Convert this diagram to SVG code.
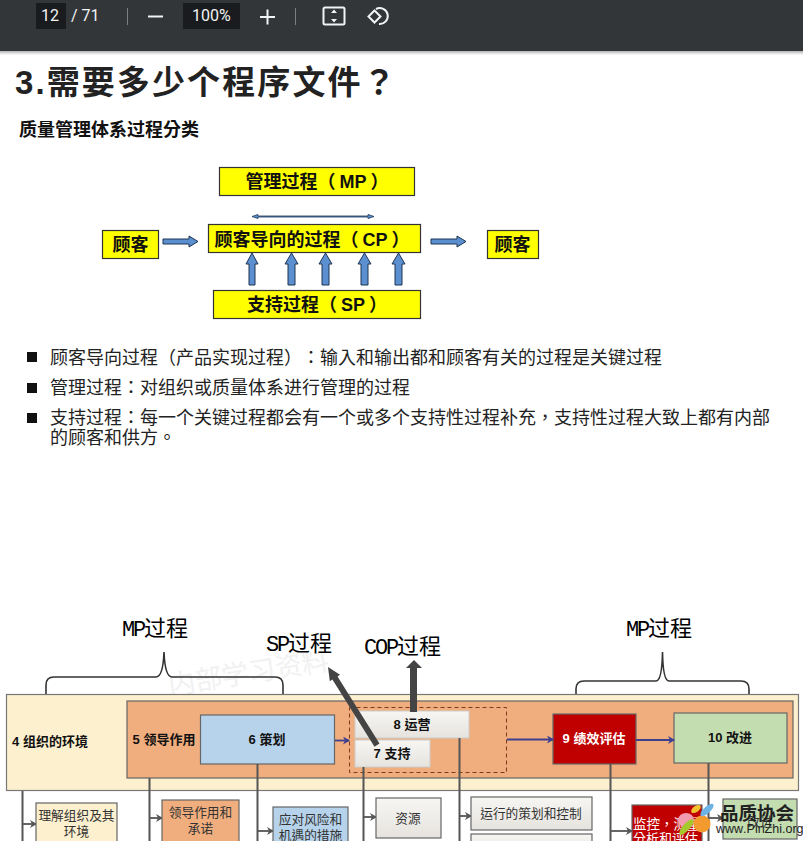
<svg xmlns="http://www.w3.org/2000/svg" width="803" height="841" viewBox="0 0 803 841">
<style>
text{font-family:"Liberation Sans","Noto Sans CJK TC",sans-serif;fill:#111;text-spacing-trim:space-all;font-kerning:none}
.tb{font-family:Roboto,"Noto Sans",sans-serif;font-size:16px;fill:#f1f3f4}
.y{fill:#ff0;stroke:#333;stroke-width:1.2}
.yt{font-size:18px;font-weight:700;text-anchor:middle}
.blk{fill:#5b8fd0;stroke:#1f3553;stroke-width:1}
.b{font-size:18px;fill:#222}
.lab{font-family:"Liberation Serif","Noto Sans CJK SC",serif;font-size:22px;fill:#000}
.lab tspan{font-family:"Liberation Mono",monospace;letter-spacing:-2.2px}
.k{font-size:13px;font-weight:700;text-anchor:middle}
.d{font-size:12.700px;text-anchor:middle;fill:#333}
.box{stroke:#666;stroke-width:1.200}
.v{fill:none;stroke:#555;stroke-width:2}
.brace{fill:none;stroke:#333;stroke-width:1.600}
.hb{stroke:#3d3f8f;stroke-width:1.800;fill:none;marker-end:url(#hb)}
.ga{stroke:#555;stroke-width:1.800;fill:none;marker-end:url(#ga)}
.ic{fill:none;stroke:#f1f3f4;stroke-width:2}
</style>
<defs>
<marker id="hb" markerWidth="8" markerHeight="8" refX="7" refY="4" orient="auto" markerUnits="userSpaceOnUse"><path d="M1 0L8 4L1 8L3 4Z" fill="#3d3f8f"/></marker>
<marker id="ga" markerWidth="8" markerHeight="8" refX="7" refY="4" orient="auto" markerUnits="userSpaceOnUse"><path d="M1 0L8 4L1 8L3 4Z" fill="#555"/></marker>
<linearGradient id="g" x1="0" y1="0" x2="0" y2="1"><stop offset="0" stop-color="#f7f6f3"/><stop offset="1" stop-color="#e6e3de"/></linearGradient>
<linearGradient id="sh" x1="0" y1="0" x2="0" y2="1"><stop offset="0" stop-color="#000" stop-opacity=".3"/><stop offset="1" stop-color="#000" stop-opacity="0"/></linearGradient>
</defs>
<rect width="803" height="841" fill="#fff"/>

<g id="toolbar">
<rect width="803" height="51" fill="#323639"/>
<rect y="51" width="803" height="4" fill="url(#sh)"/>
<rect x="36" y="3" width="30" height="26" fill="#191b1e"/>
<text class="tb" x="41" y="21">12</text>
<text class="tb" x="71" y="21">/ 71</text>
<rect x="127" y="8" width="1" height="17" fill="#7b7e80"/>
<path class="ic" d="M148 16.500H163"/>
<rect x="183" y="3" width="57" height="26" fill="#191b1e"/>
<text class="tb" x="192" y="21">100%</text>
<path class="ic" d="M260 17H275M267.500 9.500V24.500"/>
<rect x="295" y="8" width="1" height="17" fill="#7b7e80"/>
<rect class="ic" x="323.500" y="7.500" width="21" height="17" rx="1.500"/>
<path d="M334 9.500l3 3.500h-6zM334 22.500l3-3.500h-6z" fill="#f1f3f4"/>
<path class="ic" d="M376 9a8 8 0 1 1 3 15"/>
<path class="ic" d="M374.500 10.500l6 6-6 6-6-6z"/>
</g>

<text x="15" y="94" font-size="33" font-weight="700" letter-spacing="2.100" style="fill:#222">3.需要多少个程序文件？</text>
<text x="19" y="136" font-size="18" font-weight="700">质量管理体系过程分类</text>
<text x="170" y="695" font-size="27" transform="rotate(-9 170 695)" style="fill:#f1f1f1">内部学习资料</text>

<g id="connectors-top">
<path d="M258 214.500L252 216.500L258 218.500V217H368V218.500L374 216.500L368 214.500V216H258Z" fill="#5b8fd0" stroke="#1f3553" stroke-width=".8"/>
<path class="blk" d="M163 239H189V236L198 241.500L189 247V244H163Z"/>
<path class="blk" d="M431 239H457V236L466 241.500L457 247V244H431Z"/>
<path class="blk" d="M249 285V264H246L252 253L258 264H255V285Z"/>
<path class="blk" d="M288 285V264H285L291.500 253L298 264H295V285Z"/>
<path class="blk" d="M322 285V264H319L325.500 253L332 264H329V285Z"/>
<path class="blk" d="M361 285V264H358L364.500 253L371 264H368V285Z"/>
<path class="blk" d="M395 285V264H392L398.500 253L405 264H402V285Z"/>
</g>
<g id="mp"><rect class="y" x="219.500" y="167.500" width="195" height="28"/><text class="yt" x="317" y="188">管理过程（<tspan dx="4">MP</tspan><tspan dx="4">）</tspan></text></g>
<g id="cp"><rect class="y" x="208.500" y="224.500" width="212" height="28"/><text class="yt" x="312" y="246">顾客导向的过程（<tspan dx="4">CP</tspan><tspan dx="4">）</tspan></text></g>
<g id="sp"><rect class="y" x="213.500" y="290.500" width="207" height="28"/><text class="yt" x="317" y="311">支持过程（<tspan dx="4">SP</tspan><tspan dx="4">）</tspan></text></g>
<g id="cust-l"><rect class="y" x="102.500" y="230.500" width="56" height="28"/><text class="yt" x="130.500" y="251">顾客</text></g>
<g id="cust-r"><rect class="y" x="487.500" y="230.500" width="51" height="28"/><text class="yt" x="512.500" y="251">顾客</text></g>

<g id="bullets">
<rect x="27" y="352" width="10" height="10" fill="#111"/>
<rect x="27" y="383" width="10" height="10" fill="#111"/>
<rect x="27" y="413" width="10" height="10" fill="#111"/>
<text class="b" x="50" y="364">顾客导向过程（产品实现过程）：输入和输出都和顾客有关的过程是关键过程</text>
<text class="b" x="50" y="394">管理过程：对组织或质量体系进行管理的过程</text>
<text class="b" x="50" y="424">支持过程：每一个关键过程都会有一个或多个支持性过程补充，支持性过程大致上都有内部</text>
<text class="b" x="50" y="444">的顾客和供方。</text>
</g>

<g id="labels">
<text class="lab" x="122" y="636"><tspan>MP</tspan>过程</text>
<text class="lab" x="266" y="651"><tspan>SP</tspan>过程</text>
<text class="lab" x="364" y="654"><tspan>COP</tspan>过程</text>
<text class="lab" x="626" y="636"><tspan>MP</tspan>过程</text>
<path class="brace" d="M46 694V685Q46 677 54 677H156Q163 677 164 652Q165 677 172 677H275Q283 677 283 685V694"/>
<path class="brace" d="M576 700V689Q576 681 584 681H656Q662 681 662.500 652Q663 681 669 681H741Q749 681 749 689V700"/>
</g>

<g id="env"><rect x="6.500" y="694.500" width="792" height="96" fill="#fdf0cf" stroke="#777" stroke-width="1.200"/><text class="k" x="50" y="746">4 组织的环境</text></g>
<g id="lead"><rect x="127" y="701" width="666" height="77" fill="#f0ae7e" stroke="#666" stroke-width="1.200"/><text class="k" x="164" y="744">5 领导作用</text></g>
<rect x="349.500" y="707.500" width="157" height="65" fill="none" stroke="#7a3b1c" stroke-width="1" stroke-dasharray="4 3"/>
<g id="plan"><rect class="box" x="200.500" y="715" width="134" height="49" fill="#b7d3eb"/><text class="k" x="267" y="744">6 策划</text></g>
<g id="ops"><rect x="355" y="711" width="114" height="27" fill="url(#g)" stroke="#ccc"/><text class="k" x="412" y="729">8 运营</text></g>
<g id="sup"><rect x="355" y="740" width="75" height="27" fill="url(#g)" stroke="#ccc"/><text class="k" x="392" y="758">7 支持</text></g>
<g id="perf"><rect class="box" x="553" y="714" width="83" height="50" fill="#c00000"/><text class="k" x="594" y="743" style="fill:#fff">9 绩效评估</text></g>
<g id="imp"><rect class="box" x="674" y="713" width="113" height="50" fill="#c3ddb0"/><text class="k" x="730" y="742">10 改进</text></g>

<g id="connectors">
<path class="hb" d="M335 740.500H349"/>
<path class="hb" d="M507 739.500H553"/>
<path class="hb" d="M636 740H674"/>
<path class="v" d="M22.500 791V841M149.500 778V841M257.500 764V841M363.500 767V841M459.500 738V841M610.500 764V841M708.500 763V841"/>
<path class="ga" d="M23 824H36"/>
<path class="ga" d="M150 818H162"/>
<path class="ga" d="M258 831H273"/>
<path class="ga" d="M364 817H376"/>
<path class="ga" d="M460 816H471"/>
<path class="ga" d="M611 831H632"/>
<path class="ga" d="M709 818H723"/>
<path d="M379.500 743.500L374.500 746.700L332.400 679.600L329.800 681.200L328 667L340 674.800L337.500 676.400Z" fill="#444"/>
<path d="M410 712V668H406L414 660L422 668H417V712Z" fill="#444"/>
</g>

<g id="n1"><rect class="box" x="36" y="803" width="81" height="50" fill="#fdf0cf"/><text class="d" x="76.500" y="820">理解组织及其</text><text class="d" x="76.500" y="836">环境</text></g>
<g id="n2"><rect class="box" x="162" y="800" width="77" height="50" fill="#f0ae7e"/><text class="d" x="200.500" y="817">领导作用和</text><text class="d" x="200.500" y="833">承诺</text></g>
<g id="n3"><rect class="box" x="273" y="807" width="75" height="50" fill="#b7d3eb"/><text class="d" x="310.500" y="824">应对风险和</text><text class="d" x="310.500" y="840">机遇的措施</text></g>
<g id="n4"><rect class="box" x="376" y="798" width="65" height="40" fill="url(#g)"/><text class="d" x="408" y="823">资源</text></g>
<g id="n5"><rect class="box" x="471" y="797" width="121" height="33" fill="url(#g)"/><text class="d" x="531" y="818">运行的策划和控制</text></g>
<rect class="box" x="471" y="834" width="121" height="20" fill="url(#g)"/>
<g id="n6"><rect class="box" x="632" y="805" width="70" height="50" fill="#c00000"/><text x="633" y="829" font-size="13.500" style="fill:#fff">监控，测量、</text><text x="633" y="843" font-size="13" style="fill:#fff">分析和评估</text></g>
<g id="n7"><rect class="box" x="723" y="799" width="74" height="40" fill="#c3ddb0"/><text class="d" x="760" y="826">改进</text></g>

<g id="logo">
<ellipse cx="686" cy="820" rx="8" ry="7" fill="#f29ab0"/>
<circle cx="702" cy="824" r="8.500" fill="#f39a2e"/>
<ellipse cx="686.500" cy="827" rx="10" ry="3.500" transform="rotate(-48 686.500 827)" fill="#a5c82d"/>
<ellipse cx="696" cy="809" rx="5.500" ry="3" transform="rotate(-35 696 809)" fill="#f3c330"/>
<ellipse cx="707" cy="810" rx="8.500" ry="3.200" transform="rotate(-42 707 810)" fill="#6db4e6"/>
<text x="720" y="820" font-size="18.500" font-weight="700" style="fill:#222">品质协会</text>
<text x="716" y="833" font-size="12.500" style="fill:#222">www.PinZhi.org</text>
</g>
</svg>
